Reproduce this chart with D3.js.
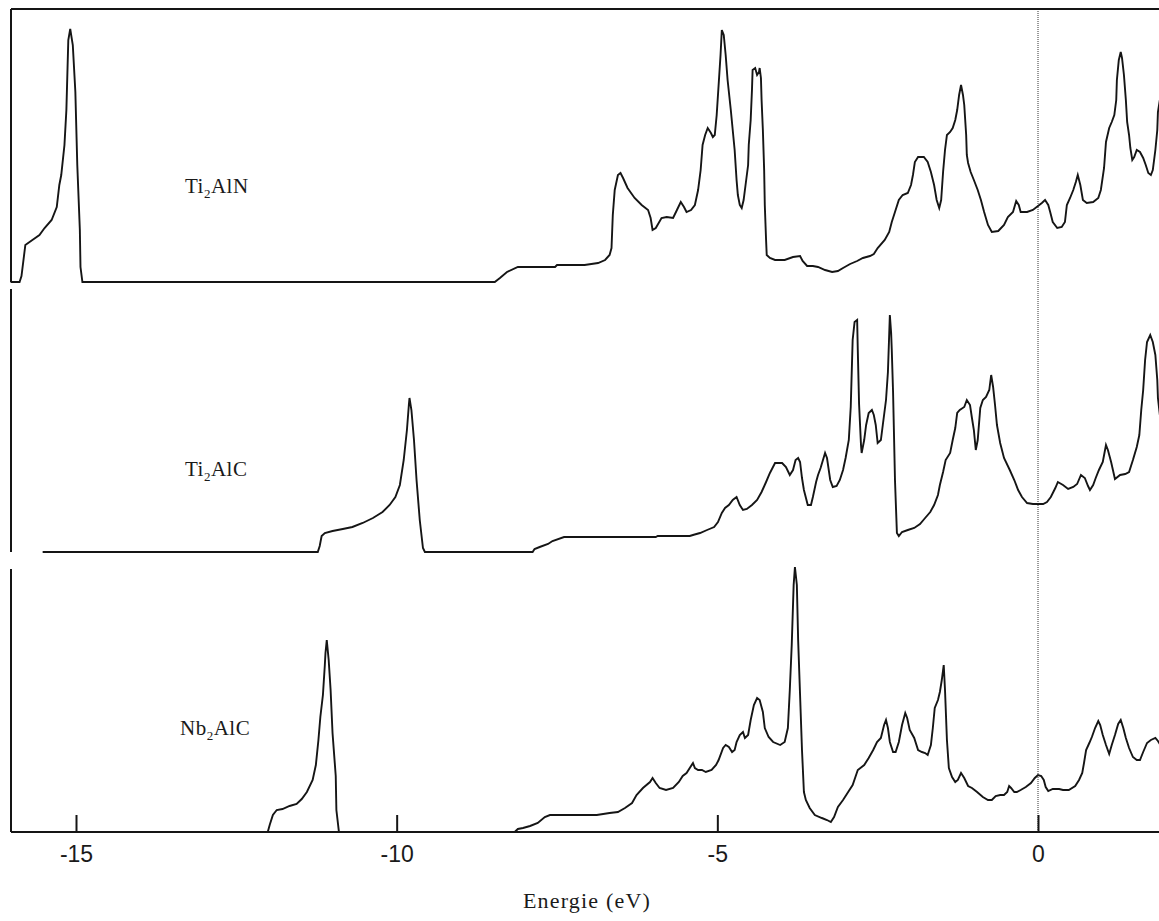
<!DOCTYPE html>
<html>
<head>
<meta charset="utf-8">
<script src="https://cdn.jsdelivr.net/npm/d3@7"></script>
<style>
  html, body { margin: 0; padding: 0; background: #fff; }
  svg { display: block; }
</style>
</head>
<body>
<svg id="chart" width="1159" height="921"></svg>
<script>
// ---- Data: density of states (arbitrary units) vs energy (eV) ----
const compounds = ["Ti2AlN", "Ti2AlC", "Nb2AlC"];
const tickValues = [-15, -10, -5, 0];
const tickLabels = ["-15", "-10", "-5", "0"];
const xLabel = "Energie (eV)";
const fermiLevel = 0;

const ti2AlN = [
[-16.02,0],[-15.88,0],[-15.85,0.24],[-15.79,1.48],[-15.68,1.68],[-15.57,1.88],[-15.49,2.16],[-15.38,2.48],[-15.30,3.0],
[-15.26,3.88],[-15.23,4.28],[-15.18,5.48],[-15.15,6.88],[-15.12,9.68],[-15.09,10.12],[-15.05,9.48],[-15.01,7.6],
[-14.98,4.68],[-14.94,2.08],[-14.93,0.6],[-14.90,0],[-8.47,0],[-8.39,0.16],[-8.28,0.4],[-8.11,0.6],[-7.53,0.6],
[-7.50,0.68],[-7.07,0.68],[-6.86,0.76],[-6.75,0.88],[-6.68,1.08],[-6.65,1.36],[-6.63,2.68],[-6.60,3.68],[-6.55,4.28],
[-6.51,4.36],[-6.47,4.16],[-6.40,3.76],[-6.29,3.36],[-6.18,3.08],[-6.08,2.88],[-6.04,2.56],[-6.01,2.08],[-5.96,2.16],
[-5.87,2.56],[-5.79,2.6],[-5.69,2.56],[-5.63,2.88],[-5.57,3.2],[-5.52,3.0],[-5.48,2.8],[-5.41,2.88],[-5.35,3.08],
[-5.30,3.68],[-5.26,4.48],[-5.23,5.48],[-5.19,5.88],[-5.15,6.16],[-5.10,5.96],[-5.07,5.8],[-5.04,5.88],[-5.01,6.68],
[-4.98,7.88],[-4.95,9.08],[-4.93,10.08],[-4.90,9.88],[-4.87,9.08],[-4.84,8.08],[-4.79,6.88],[-4.76,6.08],[-4.73,5.28],
[-4.70,4.08],[-4.68,3.48],[-4.65,3.08],[-4.62,2.96],[-4.59,3.28],[-4.56,3.88],[-4.52,4.68],[-4.51,5.48],[-4.48,6.48],
[-4.46,7.68],[-4.45,8.48],[-4.41,8.56],[-4.38,8.28],[-4.35,8.4],[-4.34,8.56],[-4.32,8.16],[-4.31,7.28],[-4.29,6.08],
[-4.27,4.48],[-4.26,3.08],[-4.24,1.68],[-4.23,1.08],[-4.18,0.96],[-4.10,0.88],[-3.95,0.88],[-3.82,1.0],[-3.71,1.04],
[-3.67,0.84],[-3.60,0.64],[-3.51,0.64],[-3.43,0.6],[-3.32,0.48],[-3.21,0.4],[-3.12,0.44],[-3.04,0.56],[-2.93,0.72],
[-2.82,0.84],[-2.73,0.96],[-2.62,1.04],[-2.56,1.12],[-2.50,1.36],[-2.39,1.68],[-2.32,2.0],[-2.28,2.4],[-2.23,2.8],
[-2.17,3.28],[-2.11,3.48],[-2.03,3.56],[-1.98,3.88],[-1.95,4.28],[-1.92,4.8],[-1.87,5.0],[-1.78,5.0],[-1.72,4.8],
[-1.67,4.4],[-1.62,3.88],[-1.58,3.28],[-1.54,2.96],[-1.51,3.28],[-1.48,4.4],[-1.45,5.28],[-1.42,5.88],[-1.37,6.0],
[-1.33,6.16],[-1.29,6.48],[-1.26,6.88],[-1.23,7.48],[-1.20,7.88],[-1.17,7.48],[-1.15,7.08],[-1.12,5.88],[-1.11,5.08],
[-1.09,4.76],[-1.05,4.4],[-1.00,4.08],[-0.94,3.68],[-0.89,3.28],[-0.84,2.8],[-0.78,2.28],[-0.72,2.0],[-0.62,2.04],
[-0.53,2.28],[-0.47,2.6],[-0.39,2.8],[-0.34,3.24],[-0.30,3.08],[-0.27,2.8],[-0.17,2.8],[-0.08,2.88],[0,3.04],
[0.06,3.16],[0.11,3.28],[0.16,3.08],[0.19,2.8],[0.23,2.4],[0.30,2.16],[0.37,2.2],[0.42,2.4],[0.45,3.08],[0.50,3.36],
[0.55,3.68],[0.59,4.0],[0.62,4.28],[0.66,3.88],[0.70,3.28],[0.76,3.16],[0.86,3.2],[0.94,3.36],[0.98,3.68],[1.03,4.56],
[1.06,5.6],[1.11,6.16],[1.15,6.4],[1.19,6.68],[1.22,7.28],[1.23,8.08],[1.26,8.88],[1.29,9.2],[1.31,8.96],[1.34,8.28],
[1.37,7.28],[1.39,6.4],[1.42,5.88],[1.44,5.36],[1.47,4.88],[1.50,5.0],[1.54,5.28],[1.59,5.2],[1.64,4.96],[1.68,4.68],
[1.72,4.36],[1.76,4.28],[1.79,4.48],[1.83,5.28],[1.86,6.08],[1.87,6.8],[1.90,7.28]
];

const ti2AlC = [
[-15.52,0],[-11.23,0],[-11.20,0.24],[-11.17,0.64],[-11.12,0.76],[-11.00,0.84],[-10.84,0.92],[-10.69,1.0],[-10.53,1.16],
[-10.37,1.36],[-10.22,1.6],[-10.11,1.88],[-10.02,2.2],[-9.95,2.68],[-9.89,3.68],[-9.84,4.88],[-9.81,5.88],[-9.80,6.16],
[-9.77,5.68],[-9.73,4.48],[-9.69,2.88],[-9.64,1.28],[-9.59,0.16],[-9.56,0],[-7.88,0],[-7.85,0.12],[-7.77,0.2],
[-7.64,0.32],[-7.57,0.44],[-7.39,0.6],[-5.96,0.6],[-5.93,0.64],[-5.43,0.64],[-5.38,0.68],[-5.27,0.76],[-5.16,0.88],
[-5.05,1.0],[-4.99,1.2],[-4.93,1.56],[-4.88,1.76],[-4.82,1.88],[-4.76,2.08],[-4.70,2.2],[-4.65,1.88],[-4.60,1.68],
[-4.54,1.72],[-4.46,1.88],[-4.38,2.08],[-4.31,2.4],[-4.24,2.8],[-4.18,3.16],[-4.10,3.56],[-3.99,3.56],[-3.93,3.4],
[-3.87,3.08],[-3.82,3.28],[-3.78,3.68],[-3.74,3.76],[-3.71,3.6],[-3.68,2.96],[-3.65,2.48],[-3.59,1.88],[-3.54,1.88],
[-3.51,2.2],[-3.46,2.8],[-3.43,3.08],[-3.39,3.36],[-3.32,3.96],[-3.29,3.76],[-3.24,2.88],[-3.20,2.6],[-3.14,2.64],
[-3.09,2.88],[-3.04,3.28],[-3.00,3.76],[-2.95,4.48],[-2.92,5.8],[-2.89,8.48],[-2.86,9.2],[-2.82,9.28],[-2.81,8.08],
[-2.79,5.92],[-2.76,4.28],[-2.75,3.96],[-2.71,4.48],[-2.68,5.08],[-2.64,5.56],[-2.59,5.68],[-2.56,5.48],[-2.53,5.08],
[-2.50,4.36],[-2.45,4.48],[-2.42,5.08],[-2.37,6.08],[-2.34,7.2],[-2.31,9.48],[-2.29,8.76],[-2.28,8.08],[-2.26,6.4],
[-2.23,2.88],[-2.20,0.76],[-2.17,0.64],[-2.12,0.8],[-2.03,0.88],[-1.93,0.96],[-1.84,1.12],[-1.76,1.36],[-1.68,1.6],
[-1.62,1.88],[-1.56,2.28],[-1.53,2.68],[-1.48,3.2],[-1.44,3.68],[-1.37,3.96],[-1.33,4.48],[-1.29,4.96],[-1.26,5.56],
[-1.22,5.68],[-1.15,5.8],[-1.11,6.08],[-1.06,5.88],[-1.03,5.36],[-1.00,4.88],[-0.97,4.08],[-0.94,4.48],[-0.90,5.76],
[-0.86,6.08],[-0.81,6.2],[-0.76,6.48],[-0.73,7.08],[-0.70,6.6],[-0.67,5.88],[-0.64,5.08],[-0.59,4.36],[-0.53,3.76],
[-0.44,3.28],[-0.37,2.88],[-0.31,2.48],[-0.25,2.2],[-0.17,1.96],[-0.08,1.92],[0,1.92],[0.08,1.92],[0.14,2.0],
[0.20,2.2],[0.27,2.56],[0.31,2.8],[0.39,2.68],[0.47,2.52],[0.55,2.6],[0.61,2.72],[0.67,3.08],[0.73,2.96],[0.78,2.64],
[0.81,2.48],[0.86,2.68],[0.90,2.96],[0.95,3.28],[1.01,3.6],[1.06,4.28],[1.09,4.08],[1.14,3.6],[1.20,2.92],[1.28,3.08],
[1.36,3.12],[1.42,3.2],[1.48,3.68],[1.54,4.2],[1.58,4.68],[1.61,5.68],[1.64,6.48],[1.67,7.68],[1.70,8.4],[1.75,8.68],
[1.79,8.4],[1.83,7.88],[1.86,6.88],[1.87,6.16],[1.90,5.48]
];

const nb2AlC = [
[-12.01,0],[-11.98,0.28],[-11.93,0.68],[-11.87,0.88],[-11.78,0.92],[-11.67,1.04],[-11.56,1.12],[-11.48,1.32],
[-11.40,1.6],[-11.31,2.08],[-11.26,2.68],[-11.22,3.68],[-11.19,4.6],[-11.15,5.48],[-11.12,6.68],[-11.11,7.16],
[-11.09,7.68],[-11.06,6.88],[-11.03,5.68],[-11.00,3.96],[-10.95,2.24],[-10.94,0.88],[-10.90,0],[-8.16,0],[-8.11,0.12],
[-8.03,0.16],[-7.92,0.24],[-7.80,0.36],[-7.69,0.6],[-7.61,0.68],[-6.88,0.68],[-6.68,0.76],[-6.55,0.8],[-6.44,0.96],
[-6.33,1.16],[-6.26,1.48],[-6.16,1.76],[-6.05,2.0],[-6.01,2.16],[-5.96,1.96],[-5.90,1.76],[-5.80,1.68],[-5.69,1.76],
[-5.60,2.0],[-5.54,2.24],[-5.48,2.36],[-5.38,2.76],[-5.35,2.56],[-5.30,2.48],[-5.24,2.48],[-5.18,2.4],[-5.09,2.48],
[-5.02,2.68],[-4.98,2.88],[-4.91,3.36],[-4.87,3.48],[-4.82,3.4],[-4.77,3.2],[-4.73,3.28],[-4.70,3.6],[-4.65,3.88],
[-4.60,4.0],[-4.57,3.76],[-4.52,3.88],[-4.48,4.48],[-4.43,5.08],[-4.38,5.36],[-4.34,5.28],[-4.29,4.8],[-4.26,4.16],
[-4.20,3.8],[-4.13,3.6],[-4.02,3.48],[-3.95,3.6],[-3.90,4.16],[-3.87,5.68],[-3.84,7.48],[-3.81,9.88],[-3.79,10.6],
[-3.76,9.88],[-3.74,7.68],[-3.71,5.48],[-3.68,3.28],[-3.65,1.6],[-3.62,1.28],[-3.56,0.96],[-3.48,0.68],[-3.37,0.56],
[-3.29,0.48],[-3.23,0.4],[-3.18,0.6],[-3.12,1.0],[-3.04,1.28],[-2.96,1.6],[-2.89,1.88],[-2.81,2.48],[-2.71,2.68],
[-2.64,2.96],[-2.57,3.28],[-2.51,3.6],[-2.45,3.76],[-2.40,4.28],[-2.37,4.48],[-2.34,4.16],[-2.31,3.6],[-2.26,3.2],
[-2.22,3.2],[-2.17,3.6],[-2.12,4.28],[-2.07,4.76],[-2.04,4.56],[-2.00,4.08],[-1.93,3.76],[-1.87,3.28],[-1.81,3.2],
[-1.76,3.16],[-1.72,3.08],[-1.67,3.48],[-1.64,4.16],[-1.61,4.96],[-1.56,5.28],[-1.53,5.6],[-1.50,6.08],[-1.47,6.68],
[-1.45,5.68],[-1.42,3.68],[-1.39,2.56],[-1.34,2.2],[-1.29,2.0],[-1.25,2.08],[-1.20,2.36],[-1.15,2.16],[-1.09,1.84],
[-1.03,1.76],[-0.95,1.6],[-0.86,1.4],[-0.78,1.28],[-0.72,1.28],[-0.66,1.44],[-0.59,1.48],[-0.53,1.48],[-0.48,1.6],
[-0.45,1.84],[-0.42,1.76],[-0.37,1.6],[-0.33,1.6],[-0.27,1.68],[-0.19,1.8],[-0.11,1.96],[-0.05,2.16],[0,2.28],
[0.05,2.24],[0.09,2.08],[0.12,1.8],[0.16,1.64],[0.23,1.72],[0.33,1.72],[0.39,1.68],[0.48,1.68],[0.58,1.84],[0.64,2.08],
[0.69,2.36],[0.72,2.8],[0.75,3.28],[0.80,3.56],[0.84,3.8],[0.89,4.16],[0.94,4.44],[0.97,4.28],[1.01,3.88],[1.06,3.48],
[1.11,3.12],[1.15,3.48],[1.20,3.88],[1.25,4.32],[1.29,4.48],[1.33,4.16],[1.37,3.76],[1.42,3.36],[1.48,3.0],[1.54,2.88],
[1.59,2.88],[1.64,3.2],[1.70,3.56],[1.76,3.68],[1.83,3.76],[1.87,3.64],[1.90,3.52]
];

const seriesList = [ti2AlN, ti2AlC, nb2AlC];

// ---- Layout ----
const plotLeft = 11, plotRight = 1159;
const panels = [
  { frameTop: 9,   base: 282, labelX: 185, labelY: 193 },
  { frameTop: 289, base: 552, labelX: 185, labelY: 476 },
  { frameTop: 569, base: 832, labelX: 180, labelY: 735 }
];
const ink = "#151515";

const svg = d3.select("#chart");
const x = d3.scaleLinear().domain([-15, 0]).range([76, 1038]);

// Fermi level dotted line
svg.append("line")
  .attr("x1", x(fermiLevel)).attr("x2", x(fermiLevel))
  .attr("y1", 9).attr("y2", 832)
  .attr("stroke", "#333").attr("stroke-width", 1)
  .attr("stroke-dasharray", "1,1");

// Top frame line
svg.append("line")
  .attr("x1", plotLeft).attr("x2", plotRight)
  .attr("y1", 9).attr("y2", 9)
  .attr("stroke", ink).attr("stroke-width", 2);

panels.forEach((p, i) => {
  const y = d3.scaleLinear().domain([0, 10]).range([p.base, p.base - 250]);
  svg.append("line")
    .attr("x1", plotLeft).attr("x2", plotLeft)
    .attr("y1", p.frameTop).attr("y2", p.base)
    .attr("stroke", ink).attr("stroke-width", 2);

  const line = d3.line().x(d => x(d[0])).y(d => y(d[1]));
  svg.append("path")
    .datum(seriesList[i])
    .attr("d", line)
    .attr("fill", "none")
    .attr("stroke", ink)
    .attr("stroke-width", 1.9);

  const m = compounds[i].match(/^([A-Za-z]+)(\d)(.*)$/);
  const t = svg.append("text")
    .attr("x", p.labelX).attr("y", p.labelY)
    .attr("font-family", "'Liberation Serif', 'Times New Roman', serif")
    .attr("font-size", 21)
    .attr("letter-spacing", 0.5)
    .attr("fill", "#1a1a1a");
  t.append("tspan").text(m[1]);
  t.append("tspan").attr("font-size", 13).attr("dy", 5).text(m[2]);
  t.append("tspan").attr("dy", -5).text(m[3]);
});

// Bottom axis
const axisY = 832;
const axis = d3.axisBottom(x)
  .tickValues(tickValues)
  .tickFormat((d, i) => tickLabels[i])
  .tickSizeInner(-17)
  .tickSizeOuter(0);
const gAxis = svg.append("g").attr("transform", `translate(0,${axisY})`).call(axis);
gAxis.select(".domain").remove();
gAxis.selectAll(".tick line").attr("stroke", ink).attr("stroke-width", 2);
gAxis.selectAll(".tick text")
  .attr("fill", "#1a1a1a")
  .attr("font-family", "'Liberation Sans', Arial, sans-serif")
  .attr("font-size", 23)
  .attr("dy", 0)
  .attr("y", 30);
svg.append("line")
  .attr("x1", plotLeft).attr("x2", plotRight)
  .attr("y1", axisY).attr("y2", axisY)
  .attr("stroke", ink).attr("stroke-width", 2);

// Axis title
svg.append("text")
  .attr("x", 587).attr("y", 908)
  .attr("text-anchor", "middle")
  .attr("font-family", "'Liberation Serif', 'Times New Roman', serif")
  .attr("font-size", 22)
  .attr("letter-spacing", 1.2)
  .attr("fill", "#1a1a1a")
  .text(xLabel);
</script>
</body>
</html>
